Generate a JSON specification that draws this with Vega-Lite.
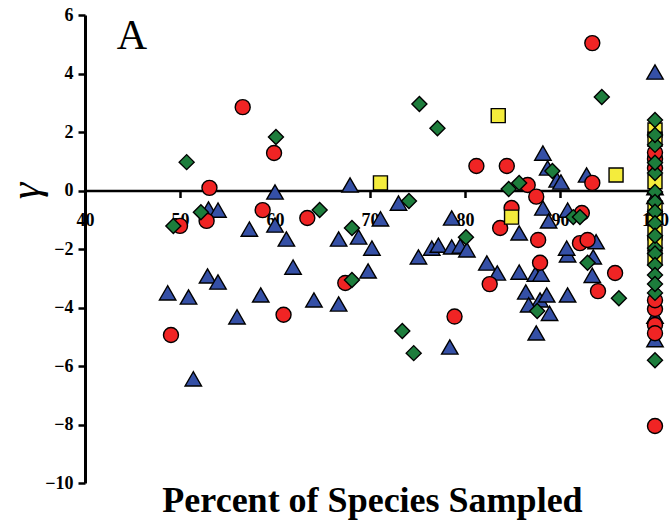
{
  "$schema": "https://vega.github.io/schema/vega-lite/v6.json",
  "width": 570,
  "height": 468,
  "autosize": {"type": "none"},
  "padding": {"left": 85, "top": 15, "right": 17, "bottom": 41},
  "background": "white",
  "config": {"view": {"stroke": null}},
  "datasets": {
    "pts": [
      {"g": "blue", "x": 53.0, "y": -0.63}, {"g": "blue", "x": 54.0, "y": -0.67}, {"g": "blue", "x": 60.0, "y": -0.05},
      {"g": "blue", "x": 57.3, "y": -1.32}, {"g": "blue", "x": 60.0, "y": -1.18}, {"g": "blue", "x": 61.2, "y": -1.66},
      {"g": "blue", "x": 61.9, "y": -2.62}, {"g": "blue", "x": 52.9, "y": -2.92}, {"g": "blue", "x": 54.0, "y": -3.13},
      {"g": "blue", "x": 48.7, "y": -3.5}, {"g": "blue", "x": 50.9, "y": -3.64}, {"g": "blue", "x": 58.5, "y": -3.57},
      {"g": "blue", "x": 56.0, "y": -4.32}, {"g": "blue", "x": 51.4, "y": -6.44}, {"g": "blue", "x": 64.1, "y": -3.74},
      {"g": "blue", "x": 66.7, "y": -3.88}, {"g": "blue", "x": 69.8, "y": -2.75}, {"g": "blue", "x": 75.1, "y": -2.27},
      {"g": "blue", "x": 78.4, "y": -5.35}, {"g": "blue", "x": 67.9, "y": 0.19}, {"g": "blue", "x": 73.0, "y": -0.43},
      {"g": "blue", "x": 71.1, "y": -0.97}, {"g": "blue", "x": 66.7, "y": -1.66}, {"g": "blue", "x": 68.8, "y": -1.59},
      {"g": "blue", "x": 70.2, "y": -1.97}, {"g": "blue", "x": 76.5, "y": -1.97}, {"g": "blue", "x": 77.2, "y": -1.87},
      {"g": "blue", "x": 78.6, "y": -0.94}, {"g": "blue", "x": 78.6, "y": -1.93}, {"g": "blue", "x": 79.5, "y": -1.9},
      {"g": "blue", "x": 80.2, "y": -2.03}, {"g": "blue", "x": 82.3, "y": -2.48}, {"g": "blue", "x": 83.4, "y": -2.82},
      {"g": "blue", "x": 88.2, "y": 1.28}, {"g": "blue", "x": 88.7, "y": 0.77}, {"g": "blue", "x": 89.7, "y": 0.36},
      {"g": "blue", "x": 90.1, "y": 0.29}, {"g": "blue", "x": 92.8, "y": 0.53}, {"g": "blue", "x": 88.2, "y": -0.6},
      {"g": "blue", "x": 88.8, "y": -1.04}, {"g": "blue", "x": 85.7, "y": -1.45}, {"g": "blue", "x": 85.7, "y": -2.79},
      {"g": "blue", "x": 87.4, "y": -2.86}, {"g": "blue", "x": 88.0, "y": -2.86}, {"g": "blue", "x": 86.4, "y": -3.47},
      {"g": "blue", "x": 87.9, "y": -3.74}, {"g": "blue", "x": 88.6, "y": -3.57}, {"g": "blue", "x": 86.7, "y": -3.91},
      {"g": "blue", "x": 88.9, "y": -4.2}, {"g": "blue", "x": 87.5, "y": -4.87}, {"g": "blue", "x": 90.8, "y": -0.67},
      {"g": "blue", "x": 93.8, "y": -1.75}, {"g": "blue", "x": 90.8, "y": -2.2}, {"g": "blue", "x": 93.5, "y": -2.27},
      {"g": "blue", "x": 93.4, "y": -2.9}, {"g": "blue", "x": 90.8, "y": -3.57}, {"g": "blue", "x": 90.7, "y": -1.97},
      {"g": "blue", "x": 100, "y": 4.05}, {"g": "blue", "x": 100, "y": -5.1}, {"g": "blue", "x": 100, "y": -0.2},
      {"g": "blue", "x": 100, "y": 0.1}, {"g": "blue", "x": 100, "y": -4.3},
      {"g": "red", "x": 56.6, "y": 2.85}, {"g": "red", "x": 59.9, "y": 1.28}, {"g": "red", "x": 53.1, "y": 0.09},
      {"g": "red", "x": 50.0, "y": -1.21}, {"g": "red", "x": 52.8, "y": -1.04}, {"g": "red", "x": 58.7, "y": -0.67},
      {"g": "red", "x": 60.9, "y": -4.25}, {"g": "red", "x": 49.05, "y": -4.94}, {"g": "red", "x": 63.4, "y": -0.94},
      {"g": "red", "x": 67.4, "y": -3.16}, {"g": "red", "x": 78.9, "y": -4.31}, {"g": "red", "x": 93.4, "y": 5.04},
      {"g": "red", "x": 81.2, "y": 0.84}, {"g": "red", "x": 84.4, "y": 0.84}, {"g": "red", "x": 86.6, "y": 0.19},
      {"g": "red", "x": 87.5, "y": -0.21}, {"g": "red", "x": 84.9, "y": -0.6}, {"g": "red", "x": 83.7, "y": -1.28},
      {"g": "red", "x": 87.7, "y": -1.69}, {"g": "red", "x": 87.9, "y": -2.47}, {"g": "red", "x": 82.6, "y": -3.2},
      {"g": "red", "x": 93.4, "y": 0.26}, {"g": "red", "x": 92.3, "y": -0.77}, {"g": "red", "x": 92.1, "y": -1.8},
      {"g": "red", "x": 92.9, "y": -1.69}, {"g": "red", "x": 95.8, "y": -2.82}, {"g": "red", "x": 94.0, "y": -3.44},
      {"g": "red", "x": 100, "y": 1.08}, {"g": "red", "x": 100, "y": 0.77}, {"g": "red", "x": 100, "y": -4.05},
      {"g": "red", "x": 100, "y": -4.6}, {"g": "red", "x": 100, "y": -4.88}, {"g": "red", "x": 100, "y": -8.05},
      {"g": "red", "x": 100, "y": -3.75}, {"g": "red", "x": 100, "y": 1.3},
      {"g": "yellow", "x": 71.1, "y": 0.26}, {"g": "yellow", "x": 83.5, "y": 2.56}, {"g": "yellow", "x": 84.9, "y": -0.91},
      {"g": "yellow", "x": 95.9, "y": 0.53}, {"g": "yellow", "x": 100, "y": 2.07}, {"g": "yellow", "x": 100, "y": 0.3},
      {"g": "yellow", "x": 100, "y": -0.9}, {"g": "yellow", "x": 100, "y": -1.45}, {"g": "yellow", "x": 100, "y": -1.8},
      {"g": "yellow", "x": 100, "y": 1.75}, {"g": "yellow", "x": 100, "y": -0.6}, {"g": "yellow", "x": 100, "y": -2.3},
      {"g": "green", "x": 50.7, "y": 0.97}, {"g": "green", "x": 52.2, "y": -0.74}, {"g": "green", "x": 49.3, "y": -1.21},
      {"g": "green", "x": 60.1, "y": 1.83}, {"g": "green", "x": 64.7, "y": -0.67}, {"g": "green", "x": 68.1, "y": -1.28},
      {"g": "green", "x": 68.1, "y": -3.06}, {"g": "green", "x": 74.1, "y": -0.36}, {"g": "green", "x": 75.2, "y": 2.96},
      {"g": "green", "x": 77.1, "y": 2.13}, {"g": "green", "x": 80.1, "y": -1.6}, {"g": "green", "x": 73.4, "y": -4.8},
      {"g": "green", "x": 74.6, "y": -5.56}, {"g": "green", "x": 84.6, "y": 0.05}, {"g": "green", "x": 85.7, "y": 0.26},
      {"g": "green", "x": 89.2, "y": 0.67}, {"g": "green", "x": 87.6, "y": -4.12}, {"g": "green", "x": 91.4, "y": -0.91},
      {"g": "green", "x": 92.1, "y": -0.91}, {"g": "green", "x": 92.9, "y": -2.47}, {"g": "green", "x": 94.4, "y": 3.2},
      {"g": "green", "x": 96.2, "y": -3.68}, {"g": "green", "x": 100, "y": 2.41}, {"g": "green", "x": 100, "y": 1.56},
      {"g": "green", "x": 100, "y": 0.6}, {"g": "green", "x": 100, "y": -0.05}, {"g": "green", "x": 100, "y": -0.39},
      {"g": "green", "x": 100, "y": -0.73}, {"g": "green", "x": 100, "y": -1.12}, {"g": "green", "x": 100, "y": -1.97},
      {"g": "green", "x": 100, "y": -2.15}, {"g": "green", "x": 100, "y": -2.55}, {"g": "green", "x": 100, "y": -2.89},
      {"g": "green", "x": 100, "y": -3.5}, {"g": "green", "x": 100, "y": -5.8},
      {"g": "green", "x": 100, "y": 1.9}, {"g": "green", "x": 100, "y": 0.95}, {"g": "green", "x": 100, "y": -1.55},
      {"g": "green", "x": 100, "y": -3.2}
    ],
    "lab": [{"t": "A", "x": 44.95, "y": 5.28}]
  },
  "layer": [
    {
      "data": {"name": "pts"},
      "mark": {"type": "point", "filled": true, "stroke": "black", "strokeWidth": 1.4, "opacity": 1},
      "encoding": {
        "x": {
          "field": "x", "type": "quantitative",
          "scale": {"domain": [40, 100], "nice": false, "zero": false},
          "axis": {
            "offset": -292.5, "values": [40, 50, 60, 70, 80, 90, 100], "grid": false,
            "domainColor": "black", "domainWidth": 2.5, "tickColor": "black", "tickWidth": 2.5, "tickSize": 7,
            "labelFont": "Liberation Serif", "labelFontWeight": "bold", "labelFontSize": 18, "labelColor": "black",
            "labelPadding": 14, "labelFlush": false, "labelOverlap": false,
            "title": "Percent of Species Sampled", "titleFont": "Liberation Serif", "titleFontSize": 36,
            "titleFontWeight": "bold", "titleColor": "black", "titleY": 320.5, "titleX": 287, "titleBaseline": "alphabetic"
          }
        },
        "y": {
          "field": "y", "type": "quantitative",
          "scale": {"domain": [-10, 6], "nice": false, "zero": false},
          "axis": {
            "values": [-10, -8, -6, -4, -2, 0, 2, 4, 6], "grid": false,
            "domainColor": "black", "domainWidth": 3, "tickColor": "black", "tickWidth": 2.5, "tickSize": 7,
            "labelFont": "Liberation Serif", "labelFontWeight": "bold", "labelFontSize": 18, "labelColor": "black",
            "labelPadding": 5, "labelFlush": false, "labelOverlap": false,
            "title": "γ", "titleFont": "Liberation Serif", "titleFontSize": 42, "titleFontStyle": "italic",
            "titleFontWeight": "normal", "titleColor": "black", "titleX": -60, "titleY": 175.5, "titleAngle": 270,
            "titleBaseline": "middle"
          }
        },
        "shape": {"field": "g", "type": "nominal", "scale": {"domain": ["blue", "red", "yellow", "green"], "range": ["triangle-up", "circle", "square", "diamond"]}, "legend": null},
        "color": {"field": "g", "type": "nominal", "scale": {"domain": ["blue", "red", "yellow", "green"], "range": ["#3550a6", "#f02424", "#f4ec3c", "#1d7d3c"]}, "legend": null},
        "size": {"field": "g", "type": "nominal", "scale": {"type": "ordinal", "domain": ["blue", "red", "yellow", "green"], "range": [270, 225, 196, 225]}, "legend": null}
      }
    },
    {
      "data": {"name": "lab"},
      "mark": {"type": "text", "font": "Liberation Serif", "fontSize": 42, "color": "black", "align": "center", "baseline": "middle"},
      "encoding": {
        "x": {"field": "x", "type": "quantitative"},
        "y": {"field": "y", "type": "quantitative"},
        "text": {"field": "t", "type": "nominal"}
      }
    }
  ]
}
